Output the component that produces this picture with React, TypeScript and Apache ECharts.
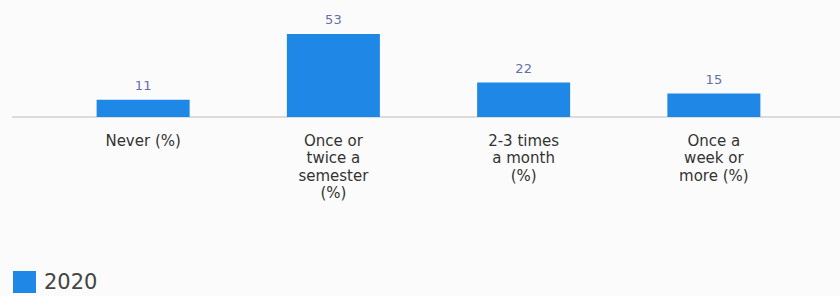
import React, { useEffect, useRef } from "react";
import * as echarts from "echarts";

const categories = ["Never (%)", "Once or twice a semester (%)", "2-3 times a month (%)", "Once a week or more (%)"];
const wrappedLabels = ["Never (%)", "Once or\ntwice a\nsemester\n(%)", "2-3 times\na month\n(%)", "Once a\nweek or\nmore (%)"];
const seriesName = "2020";
const values2020 = [11, 53, 22, 15];

export default function App() {
  const ref = useRef<HTMLDivElement>(null);
  useEffect(() => {
    if (!ref.current) return;
    const chart = echarts.init(ref.current, null, { renderer: "svg" });
    chart.setOption({
      animation: false,
      backgroundColor: "#fbfbfb",
      textStyle: { fontFamily: "DejaVu Sans" },
      grid: { left: 48, width: 761, top: 34, height: 83, containLabel: false },
      legend: {
        left: 13,
        top: 271,
        padding: 0,
        itemWidth: 23,
        itemHeight: 22,
        icon: "rect",
        data: [seriesName],
        textStyle: { fontSize: 21, lineHeight: 22, color: "#444", fontFamily: "DejaVu Sans", padding: [0, 0, 0, 3] },
      },
      xAxis: {
        type: "category",
        data: categories,
        axisLine: { show: false },
        axisTick: { show: false },
        axisLabel: {
          interval: 0,
          margin: 15,
          fontSize: 15,
          lineHeight: 17.5,
          color: "#333",
          fontFamily: "DejaVu Sans",
          formatter: (v: string) => wrappedLabels[categories.indexOf(v)] ?? v,
        },
      },
      yAxis: {
        type: "value",
        min: 0,
        max: 53,
        show: false,
        splitLine: { show: false },
      },
      graphic: [
        {
          type: "line",
          shape: { x1: 12, y1: 117, x2: 840, y2: 117 },
          style: { stroke: "#d2d2d2", lineWidth: 1.5 },
          z: 0,
        },
      ],
      series: [
        {
          name: seriesName,
          type: "bar",
          data: values2020,
          barWidth: 93,
          itemStyle: { color: "#1f87e6" },
          label: {
            show: true,
            position: "top",
            distance: 8,
            fontSize: 13,
            color: "#6470a8",
            fontFamily: "DejaVu Sans",
          },
          z: 2,
        },
      ],
    });
    return () => chart.dispose();
  }, []);
  return <div ref={ref} style={{ position: "fixed", left: 0, top: 0, width: 840, height: 296 }} />;
}
